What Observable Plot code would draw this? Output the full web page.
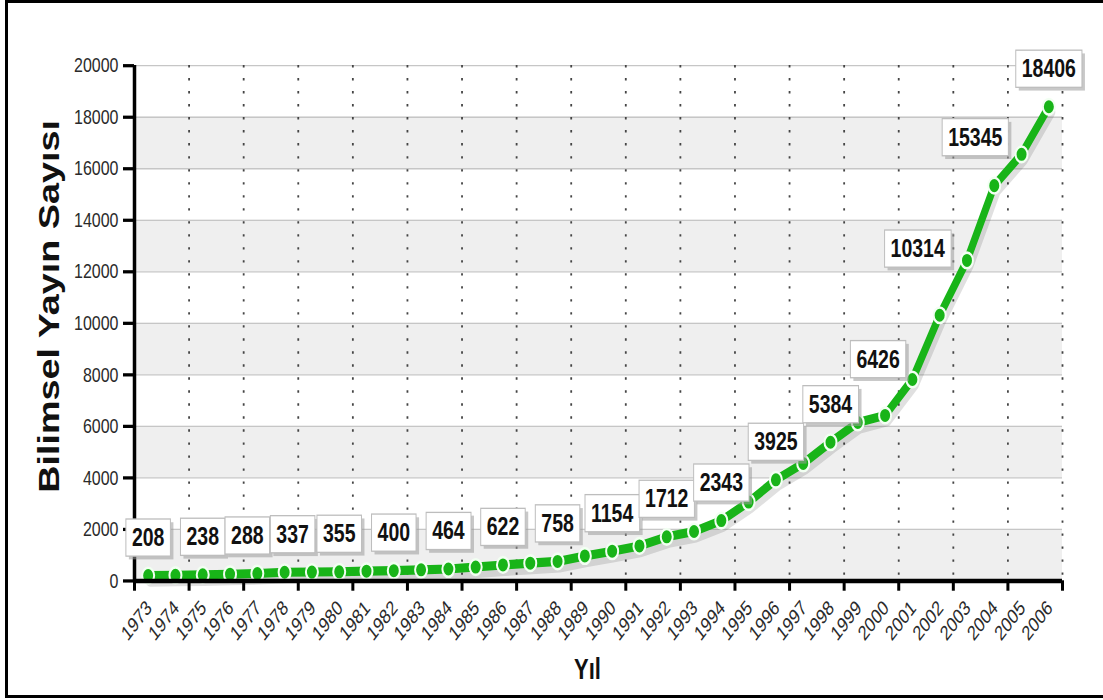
<!DOCTYPE html>
<html lang="tr">
<head>
<meta charset="utf-8">
<title>Bilimsel Yayın Sayısı, 1973–2006</title>
<script src="https://cdn.jsdelivr.net/npm/d3@7"></script>
<script src="https://cdn.jsdelivr.net/npm/@observablehq/plot@0.6"></script>
<style>
  html, body { margin: 0; padding: 0; background: #fff; overflow: hidden; }
  #chart { position: relative; width: 1103px; height: 700px; }
  #chart svg { display: block; }
  #frame {
    position: absolute; left: 5px; top: 0; width: 1200px; height: 698px;
    border: 3px solid #000; box-sizing: border-box; pointer-events: none;
  }
</style>
</head>
<body>
<div id="chart"><div id="frame"></div></div>
<script>
// Yearly counts of scientific publications
const years = [
  1973, 1974, 1975, 1976, 1977, 1978, 1979, 1980, 1981, 1982, 1983, 1984,
  1985, 1986, 1987, 1988, 1989, 1990, 1991, 1992, 1993, 1994, 1995, 1996,
  1997, 1998, 1999, 2000, 2001, 2002, 2003, 2004, 2005, 2006
];
const counts = [
  208, 222, 238, 262, 288, 337, 346, 355, 380, 400, 431, 464,
  540, 622, 690, 758, 970, 1154, 1360, 1712, 1920, 2343, 3060, 3925,
  4560, 5384, 6150, 6426, 7820, 10314, 12440, 15345, 16560, 18406
];
// Years whose value is written in a box above the point
const labelYears = [
  1973, 1975, 1977, 1978, 1980, 1982, 1984, 1986, 1988,
  1990, 1992, 1994, 1996, 1998, 2000, 2002, 2004, 2006
];
const yTicks = [0, 2000, 4000, 6000, 8000, 10000, 12000, 14000, 16000, 18000, 20000];
const yTitle = "Bilimsel Yayın Sayısı";
const xTitle = "Yıl";

const data = years.map((year, i) => ({year, count: counts[i]}));
const byYear = new Map(data.map(d => [d.year, d]));

// The chart is laid out in a shorter coordinate space and then stretched
// vertically to the page height, giving the tall lettering of the original.
const W = 1103, H = 538, SCREEN_H = 700;
const green = "#18b418";

const x0 = years[0] - 0.5;
const x1 = years[years.length - 1] + 0.5;
// Major ticks and dotted grid sit between categories, every two years
const boundaries = d3.range(x0, x1 + 1, 2);
// Alternating shaded bands between horizontal grid lines
const bands = d3.range(0, yTicks.length - 1, 2).map(i => ({lo: yTicks[i], hi: yTicks[i + 1]}));

// Small nudges that keep the value boxes clear of each other and of the line
function nudge(year) {
  switch (year) {
    case 1977: return [-10, 0];
    case 1978: return [8, 0];
    case 2000: return [-7, -14];
    case 2002: return [-22, -22];
    case 2004: return [-19, -8];
    default: return [0, 0];
  }
}

const valueLabels = labelYears.map(year => {
  const [dx, dy] = nudge(year);
  return Plot.text([byYear.get(year)], {
    x: "year", y: "count", text: d => String(d.count),
    dx, dy: -29 + dy,
    fontSize: 19.5, fontWeight: "bold", fill: "#111",
    ariaDescription: "value-label"
  });
});

const svg = Plot.plot({
  width: W,
  height: H,
  marginLeft: 134,
  marginRight: 41,
  marginTop: 50,
  marginBottom: H - 446,
  x: {type: "linear", domain: [x0, x1]},
  y: {domain: [0, 20000]},
  style: {fontFamily: "'Liberation Sans', Arial, sans-serif", background: "transparent", overflow: "visible"},
  marks: [
    Plot.rect(bands, {x1: () => x0, x2: () => x1, y1: "lo", y2: "hi", fill: "#efefef"}),
    Plot.ruleY(yTicks, {stroke: "#c6c6c6", strokeWidth: 1}),
    Plot.ruleX(boundaries.slice(1), {stroke: "#444", strokeWidth: 1.8, strokeDasharray: "1.8,8.2"}),

    // soft shadow, then the green series line and its points
    Plot.line(data, {x: "year", y: "count", stroke: "#000", strokeOpacity: 0.12, strokeWidth: 9, dx: 2, dy: 4}),
    Plot.line(data, {x: "year", y: "count", stroke: green, strokeWidth: 7, strokeLinejoin: "round"}),
    Plot.dot(data, {x: "year", y: "count", r: 6, fill: green, stroke: "#f2fff2", strokeWidth: 2}),

    // axes
    Plot.axisY(yTicks, {
      tickSize: 11, tickPadding: 5, strokeWidth: 2.5, stroke: "#000", fill: "#2a2a2a",
      fontSize: 16, tickFormat: d => String(d), label: null
    }),
    Plot.ruleX([x0], {y1: 0, y2: 20000, stroke: "#000", strokeWidth: 3.5}),
    Plot.ruleY([0], {stroke: "#000", strokeWidth: 3.5}),
    Plot.axisX(boundaries, {tickSize: 8, strokeWidth: 3, stroke: "#000", tickFormat: () => "", label: null}),
    Plot.text(years, {
      x: d => d, frameAnchor: "bottom", text: d => String(d),
      rotate: -45, textAnchor: "end", lineAnchor: "middle",
      dx: 1, dy: 18, fontSize: 16, fill: "#2a2a2a"
    }),

    ...valueLabels,

    // axis titles
    Plot.text([yTitle], {
      text: d => d, frameAnchor: "left", rotate: -90,
      textAnchor: "middle", lineAnchor: "middle", dx: -85, dy: -13,
      fontSize: 29, fontWeight: "bold", fill: "#111"
    }),
    Plot.text([xTitle], {
      text: d => d, frameAnchor: "bottom", textAnchor: "middle", lineAnchor: "middle",
      dx: -11, dy: 68, fontSize: 22, fontWeight: "bold", fill: "#111"
    })
  ]
});

svg.setAttribute("preserveAspectRatio", "none");
svg.setAttribute("height", SCREEN_H);
svg.style.width = W + "px";
svg.style.height = SCREEN_H + "px";
svg.style.maxWidth = "none";
document.getElementById("chart").prepend(svg);

// Draw a white box with a drop shadow behind every value label
const NS = "http://www.w3.org/2000/svg";
svg.querySelectorAll('g[aria-description="value-label"] text').forEach(t => {
  const b = t.getBBox();
  const padX = 6, padY = 3.5;
  const tf = t.getAttribute("transform");
  const make = (dx, dy, attrs) => {
    const r = document.createElementNS(NS, "rect");
    r.setAttribute("x", b.x - padX + dx);
    r.setAttribute("y", b.y - padY + dy);
    r.setAttribute("width", b.width + 2 * padX);
    r.setAttribute("height", b.height + 2 * padY);
    if (tf) r.setAttribute("transform", tf);
    for (const [k, v] of Object.entries(attrs)) r.setAttribute(k, v);
    t.parentNode.insertBefore(r, t);
  };
  make(3, 2.5, {fill: "#9a9a9a", "fill-opacity": 0.55, stroke: "none"});
  make(0, 0, {fill: "#fff", stroke: "#bdbdbd", "stroke-width": 1});
});
</script>
</body>
</html>
